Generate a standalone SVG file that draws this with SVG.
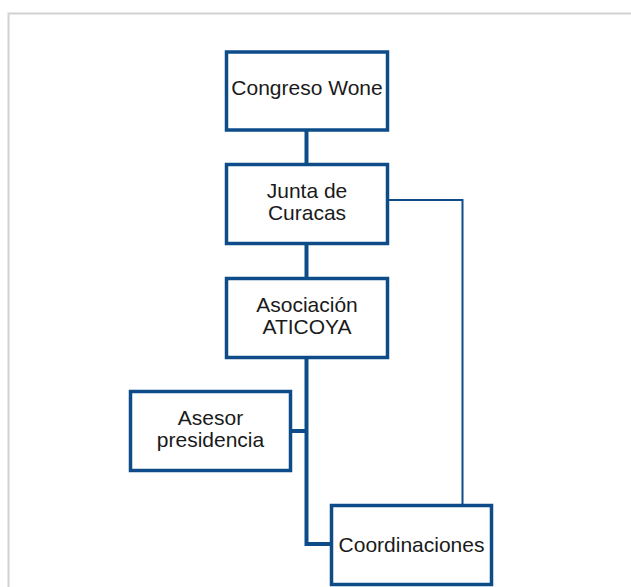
<svg xmlns="http://www.w3.org/2000/svg" width="631" height="587" viewBox="0 0 631 587">
<style>
.node rect{fill:#ffffff;stroke:#0d4c89;stroke-width:3.5}
.node text{font-family:"Liberation Sans",Arial,sans-serif;font-size:21px;fill:#1a1a1a;text-anchor:middle}
.thick{stroke:#0d4c89;stroke-width:4;fill:none}
.thin{stroke:#0d4c89;stroke-width:2;fill:none}
</style>
<rect width="631" height="587" fill="#ffffff"/>
<path d="M8.5,600 V13.5 H640" fill="none" stroke="#d2d2d2" stroke-width="2"/>
<g id="connectors">
<line class="thick" x1="306.5" y1="131" x2="306.5" y2="163"/>
<line class="thick" x1="306.5" y1="245" x2="306.5" y2="277"/>
<path class="thick" d="M306.5,358 V544 H331"/>
<line class="thick" x1="291" y1="431" x2="306.5" y2="431"/>
<path class="thin" d="M389,200 H462.5 V504"/>
</g>
<g id="congreso" class="node">
<rect x="226.5" y="52" width="161" height="78"/>
<text x="307" y="95">Congreso Wone</text>
</g>
<g id="junta" class="node">
<rect x="226.5" y="164.5" width="161" height="79"/>
<text x="307" y="198">Junta de</text>
<text x="307" y="220">Curacas</text>
</g>
<g id="asociacion" class="node">
<rect x="226.5" y="278.5" width="161" height="79"/>
<text x="307" y="312">Asociación</text>
<text x="307" y="334">ATICOYA</text>
</g>
<g id="asesor" class="node">
<rect x="130.5" y="391.5" width="160" height="79"/>
<text x="210.5" y="425">Asesor</text>
<text x="210.5" y="447">presidencia</text>
</g>
<g id="coordinaciones" class="node">
<rect x="331.5" y="505.5" width="160" height="79"/>
<text x="411.5" y="552">Coordinaciones</text>
</g>
</svg>
